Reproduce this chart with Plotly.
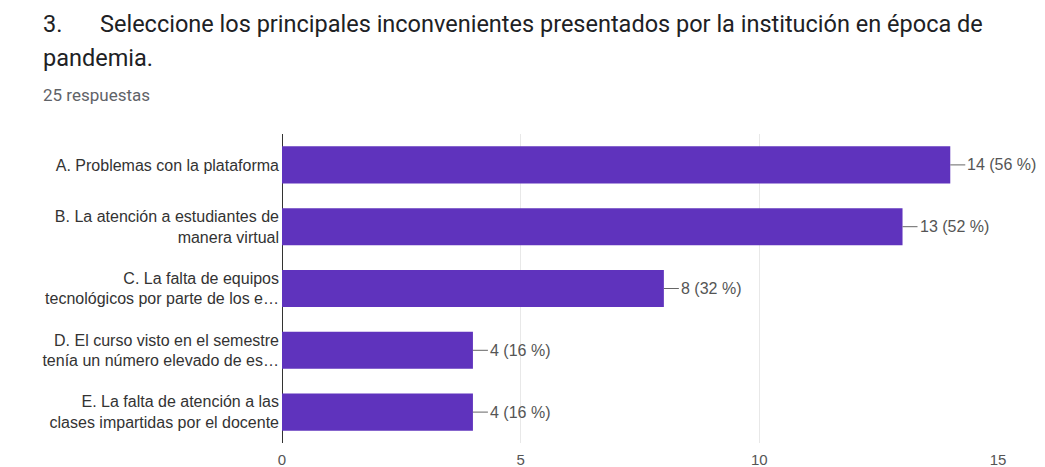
import plotly.graph_objects as go

# Survey answers (multiple choice, 25 responses)
categories = [
    "A. Problemas con la plataforma",
    "B. La atención a estudiantes de<br>manera virtual",
    "C. La falta de equipos<br>tecnológicos por parte de los e…",
    "D. El curso visto en el semestre<br>tenía un número elevado de es…",
    "E. La falta de atención a las<br>clases impartidas por el docente",
]
counts = [14, 13, 8, 4, 4]
percents = [56, 52, 32, 16, 16]
x_ticks = [0, 5, 10, 15]

BAR_COLOR = "#5f33bd"
TEXT = "#333333"
CHART_FONT = "Liberation Sans, Arial, sans-serif"

fig = go.Figure(
    go.Bar(
        x=counts,
        y=categories,
        orientation="h",
        marker=dict(color=BAR_COLOR, line=dict(width=0)),
        hoverinfo="skip",
    )
)

# Value labels joined to the bar end by a short leader line
for c, p, cat in zip(counts, percents, categories):
    fig.add_annotation(
        x=c, y=cat, xref="x", yref="y",
        text=f"{c} ({p} %)",
        showarrow=True, arrowhead=0, arrowwidth=1, arrowcolor="#666666",
        ax=15, ay=0, xanchor="left", standoff=0,
        font=dict(family=CHART_FONT, size=16, color="#555555"),
    )

PLOT_L, PLOT_R, PLOT_T, PLOT_B = 282, 998, 134, 443
W, H = 1045, 467


def px(xp):
    return (xp - PLOT_L) / (PLOT_R - PLOT_L)


def py(yp):
    return (PLOT_B - yp) / (PLOT_B - PLOT_T)


title_font = dict(family="Roboto, sans-serif", size=23.5, color="#202124")
fig.add_annotation(x=px(41), y=py(24), xref="paper", yref="paper", text="3.",
                   showarrow=False, xanchor="left", yanchor="middle", font=title_font)
fig.add_annotation(x=px(98), y=py(24), xref="paper", yref="paper",
                   text="Seleccione los principales inconvenientes presentados por la institución en época de",
                   showarrow=False, xanchor="left", yanchor="middle", font=title_font)
fig.add_annotation(x=px(41), y=py(58), xref="paper", yref="paper", text="pandemia.",
                   showarrow=False, xanchor="left", yanchor="middle", font=title_font)
fig.add_annotation(x=px(41), y=py(95), xref="paper", yref="paper", text="25 respuestas",
                   showarrow=False, xanchor="left", yanchor="middle",
                   font=dict(family="Roboto, sans-serif", size=17, color="#5f6368"))

fig.update_layout(
    width=W, height=H,
    margin=dict(l=PLOT_L, r=W - PLOT_R, t=PLOT_T, b=H - PLOT_B, pad=0, autoexpand=False),
    paper_bgcolor="white", plot_bgcolor="white",
    bargap=0.4,
    showlegend=False,
    font=dict(family=CHART_FONT, size=16, color=TEXT),
    xaxis=dict(
        range=[0, 15], tickvals=x_ticks, ticktext=[str(v) for v in x_ticks],
        showgrid=True, gridcolor="#e8e8e8", gridwidth=1,
        zeroline=True, zerolinecolor="#333333", zerolinewidth=1,
        showline=False, ticks="", ticklabelstandoff=6, automargin=False,
        tickfont=dict(size=15, color="#555555"),
        fixedrange=True,
    ),
    yaxis=dict(
        categoryorder="array", categoryarray=categories, autorange="reversed",
        showgrid=False, zeroline=False, showline=False, ticks="",
        ticklabelstandoff=2, automargin=False,
        tickfont=dict(size=16, color=TEXT), fixedrange=True,
    ),
)

fig.write_html("out.html")
